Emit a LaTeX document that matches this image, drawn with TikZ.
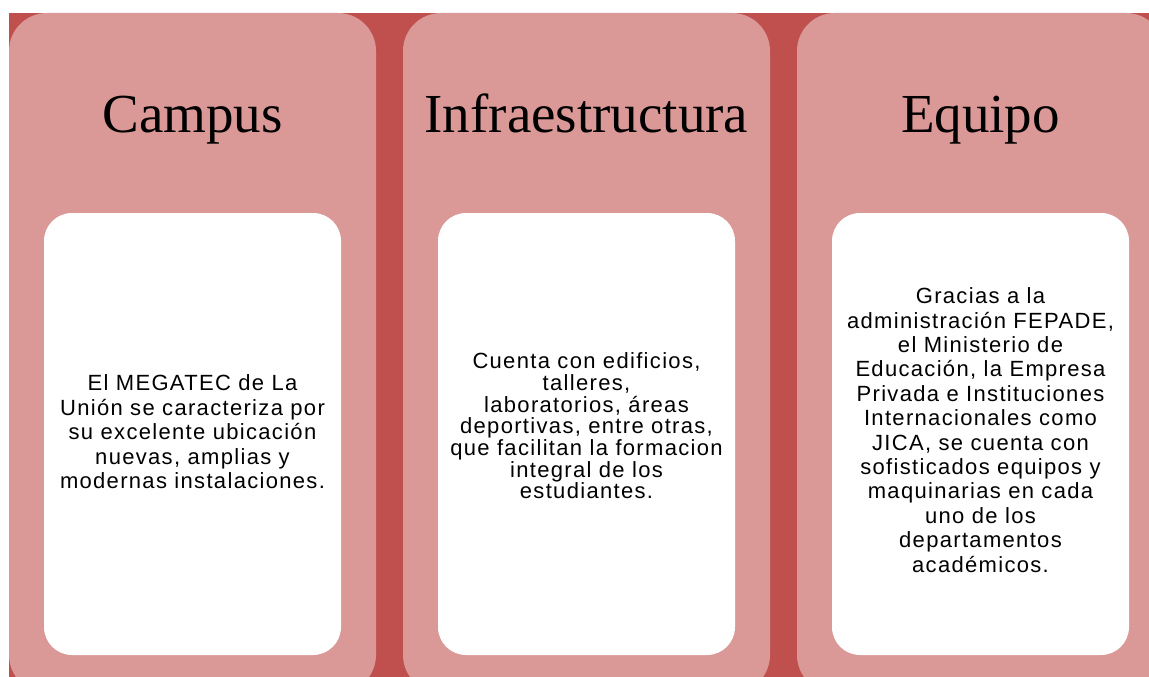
\documentclass[tikz,border=0pt]{standalone}
\usepackage{fontspec}
\setmainfont{Liberation Serif}
\newfontfamily\bodyfont[LetterSpace=6]{Liberation Sans}
\usepackage{tikz}
\usetikzlibrary{positioning}
\definecolor{darkred}{RGB}{192,80,77}
\definecolor{lightred}{RGB}{218,153,151}

\begin{document}
\begin{tikzpicture}[x=1pt,y=-1pt,
                    pillar/.style={fill=lightred, rounded corners=38pt, minimum width=367pt, minimum height=680pt, inner sep=0pt},
                    heading/.style={font=\fontsize{55}{60}\selectfont, inner sep=0pt, anchor=base},
                    card/.style={fill=white, rounded corners=28pt, minimum width=297pt, minimum height=442pt, inner sep=0pt},
                    cardtext/.style={font=\bodyfont\fontsize{22}{24.5}\selectfont, align=center, inner sep=0pt},
                   ]

\useasboundingbox (0,0) rectangle (1149,677);
\clip (0,0) rectangle (1149,677);

\fill[darkred] (9,13) rectangle (1149,677);

\node[pillar] (campus) at (192.5,353) {};
\node[pillar] (infra) at (586.5,353) {};
\node[pillar] (equipo) at (980.5,353) {};

\node[heading] (campustitle) at (192.5,132) {Campus};
\node[heading] (infratitle) at (586.5,132) {Infraestructura};
\node[heading] (equipotitle) at (980.5,132) {Equipo};

\node[card] (campuscard) at (192.5,434) {};
\node[card] (infracard) at (586.5,434) {};
\node[card] (equipocard) at (980.5,434) {};

\node[cardtext] (campustext) at ([yshift=2pt]campuscard.center)
  {El MEGATEC de La\\Unión se caracteriza por\\su excelente ubicación\\nuevas, amplias y\\modernas instalaciones.};
\node[cardtext, font=\bodyfont\fontsize{22}{21.7}\selectfont] (infratext) at ([yshift=8pt]infracard.center)
  {Cuenta con edificios,\\talleres,\\laboratorios, áreas\\deportivas, entre otras,\\que facilitan la formacion\\integral de los\\estudiantes.};
\node[cardtext, font=\bodyfont\fontsize{22}{24.4}\selectfont] (equipotext) at ([yshift=4pt]equipocard.center)
  {Gracias a la\\administración FEPADE,\\el Ministerio de\\Educación, la Empresa\\Privada e Instituciones\\Internacionales como\\JICA, se cuenta con\\sofisticados equipos y\\maquinarias en cada\\uno de los\\departamentos\\académicos.};

\end{tikzpicture}
\end{document}
